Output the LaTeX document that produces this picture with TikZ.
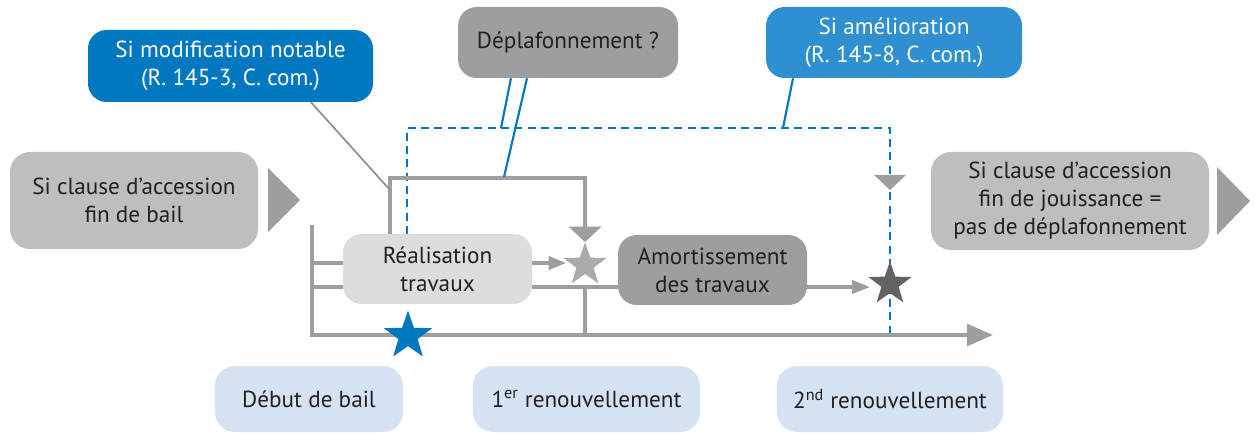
\documentclass[tikz,border=0pt]{standalone}
\usepackage{fontspec}
\setmainfont{PT Sans}
\usetikzlibrary{shapes.geometric,arrows.meta}
\definecolor{dblue}{HTML}{0078C1}
\definecolor{lblue}{HTML}{2E90D1}
\definecolor{gmid}{HTML}{9D9EA1}
\definecolor{glight}{HTML}{BDBEC0}
\definecolor{gpale}{HTML}{DCDDDF}
\definecolor{bpale}{HTML}{D5E2F2}
\definecolor{sdark}{HTML}{626265}
\definecolor{slight}{HTML}{A9AAAD}
\definecolor{txt}{HTML}{231F20}
\definecolor{gthin}{HTML}{8E8F92}
\begin{document}
\begin{tikzpicture}[x=0.75pt,y=-0.75pt,
  font=\fontsize{17.4}{21}\selectfont,
  box/.style={rounded corners=14pt, inner sep=0pt, align=center, text=txt},
  bbox/.style={box, rounded corners=15pt, fill=bpale},
  starshape/.style={star, star points=5, star point ratio=2.5, inner sep=0pt, draw=none},
  tl/.style={draw=gmid, line width=3.6pt},
  thinl/.style={draw=gmid, line width=2.3pt},
  bl/.style={draw=dblue, line width=1.6pt},
  dsh/.style={draw=dblue, line width=1.8pt, dash pattern=on 6pt off 4pt}
]
\useasboundingbox (0,0) rectangle (1255,434);

% boxes
\node[box, fill=dblue, text=white, minimum width=213.75pt, minimum height=54pt] (mod) at (230.5,66) {Si modification notable\\(R.~145-3, C.~com.)};
\node[box, fill=gmid, minimum width=165pt, minimum height=53.25pt] (depl) at (568,42.5) {Déplafonnement ?};
\node[box, fill=lblue, text=white, minimum width=192pt, minimum height=53.25pt] (amel) at (894,42.5) {Si amélioration\\(R.~145-8, C.~com.)};
\node[box, rounded corners=15pt, fill=glight, minimum width=186pt, minimum height=72.75pt] (clL) at (134,200.5) {Si clause d’accession\\fin de bail};
\node[box, rounded corners=15pt, fill=glight, minimum width=208.5pt, minimum height=73.5pt] (clR) at (1070,201) {Si clause d’accession\\fin de jouissance =\\pas de déplafonnement};

% right-pointing triangles
\fill[gmid] (268,168) -- (300,200) -- (268,232) -- cycle;
\fill[gmid] (1217,167) -- (1250,201) -- (1217,235) -- cycle;

% timeline
\coordinate (t0) at (312,225);
\coordinate (t1) at (312,335);
\coordinate (tend) at (993,335);
\draw[tl, -{Triangle[length=19.5pt,width=16pt]}] (t0) -- (t1) -- (tend);

% blue dashed path
\coordinate (d0) at (407,234);
\coordinate (d1) at (407,128);
\coordinate (d2) at (890,128);
\coordinate (d3) at (890,333);
\draw[dsh] (d0) -- (d1) -- (d2) -- (d3);

% work boxes
\node[box, fill=gpale, minimum width=141.75pt, minimum height=52.5pt] (real) at (437.5,269) {Réalisation\\travaux};
\node[box, fill=gmid, minimum width=141.75pt, minimum height=52.5pt] (amort) at (712.5,270) {Amortissement\\des travaux};

% stars
\node[starshape, fill=slight, minimum size=34pt] (s1) at (585,265) {};
\node[starshape, fill=sdark, minimum size=34pt] (s2) at (890,284) {};
\node[starshape, fill=dblue, minimum size=38pt] (s0) at (408,336) {};

% left feeds into Réalisation
\draw[thinl] (312,263) -- (real.west |- 0,263);
\draw[thinl] (312,287) -- (real.west |- 0,287);
% Réalisation -> light star
\draw[thinl, -{Triangle[length=13pt,width=10pt]}] (real.east |- 0,263) -- (566,263);
% Réalisation -> Amortissement
\draw[thinl] (real.east |- 0,287) -- (amort.west |- 0,287);
% Amortissement -> dark star
\draw[thinl, -{Triangle[length=13.5pt,width=10pt]}] (amort.east |- 0,287) -- (870,287);
% vertical at first renewal
\draw[draw=gmid, line width=3.2pt] (585,285) -- (585,334);

% top gray path
\coordinate (g0) at (390,234);
\coordinate (g1) at (390,178);
\coordinate (g2) at (585,178);
\coordinate (g3) at (585,242);
\draw[draw=gmid, line width=3.4pt, -{Triangle[length=11.5pt,width=24pt]}] (g0) -- (g1) -- (g2) -- (g3);

% marker on dashed line
\fill[gmid] (874,175) -- (906,175) -- (890,190) -- cycle;

% leader lines
\coordinate (m1) at (390,190);
\draw[draw=gthin, line width=1.3pt] (mod.south -| 311,0) -- (m1);
\coordinate (p1) at (501,128);
\coordinate (p2) at (504,177);
\draw[bl] (depl.south -| 511,0) -- (p1);
\draw[bl] (depl.south -| 527,0) -- (p2);
\coordinate (a1) at (783,128);
\draw[bl] (amel.south -| 793,0) -- (a1);

% bottom boxes
\node[bbox, minimum width=141pt, minimum height=49.5pt] (deb) at (309,399) {Début de bail};
\node[bbox, minimum width=170.25pt, minimum height=49.5pt] (r1) at (586.5,399) {1\textsuperscript{er} renouvellement};
\node[bbox, minimum width=169.5pt, minimum height=49.5pt] (r2) at (890,399) {2\textsuperscript{nd} renouvellement};
\end{tikzpicture}
\end{document}
